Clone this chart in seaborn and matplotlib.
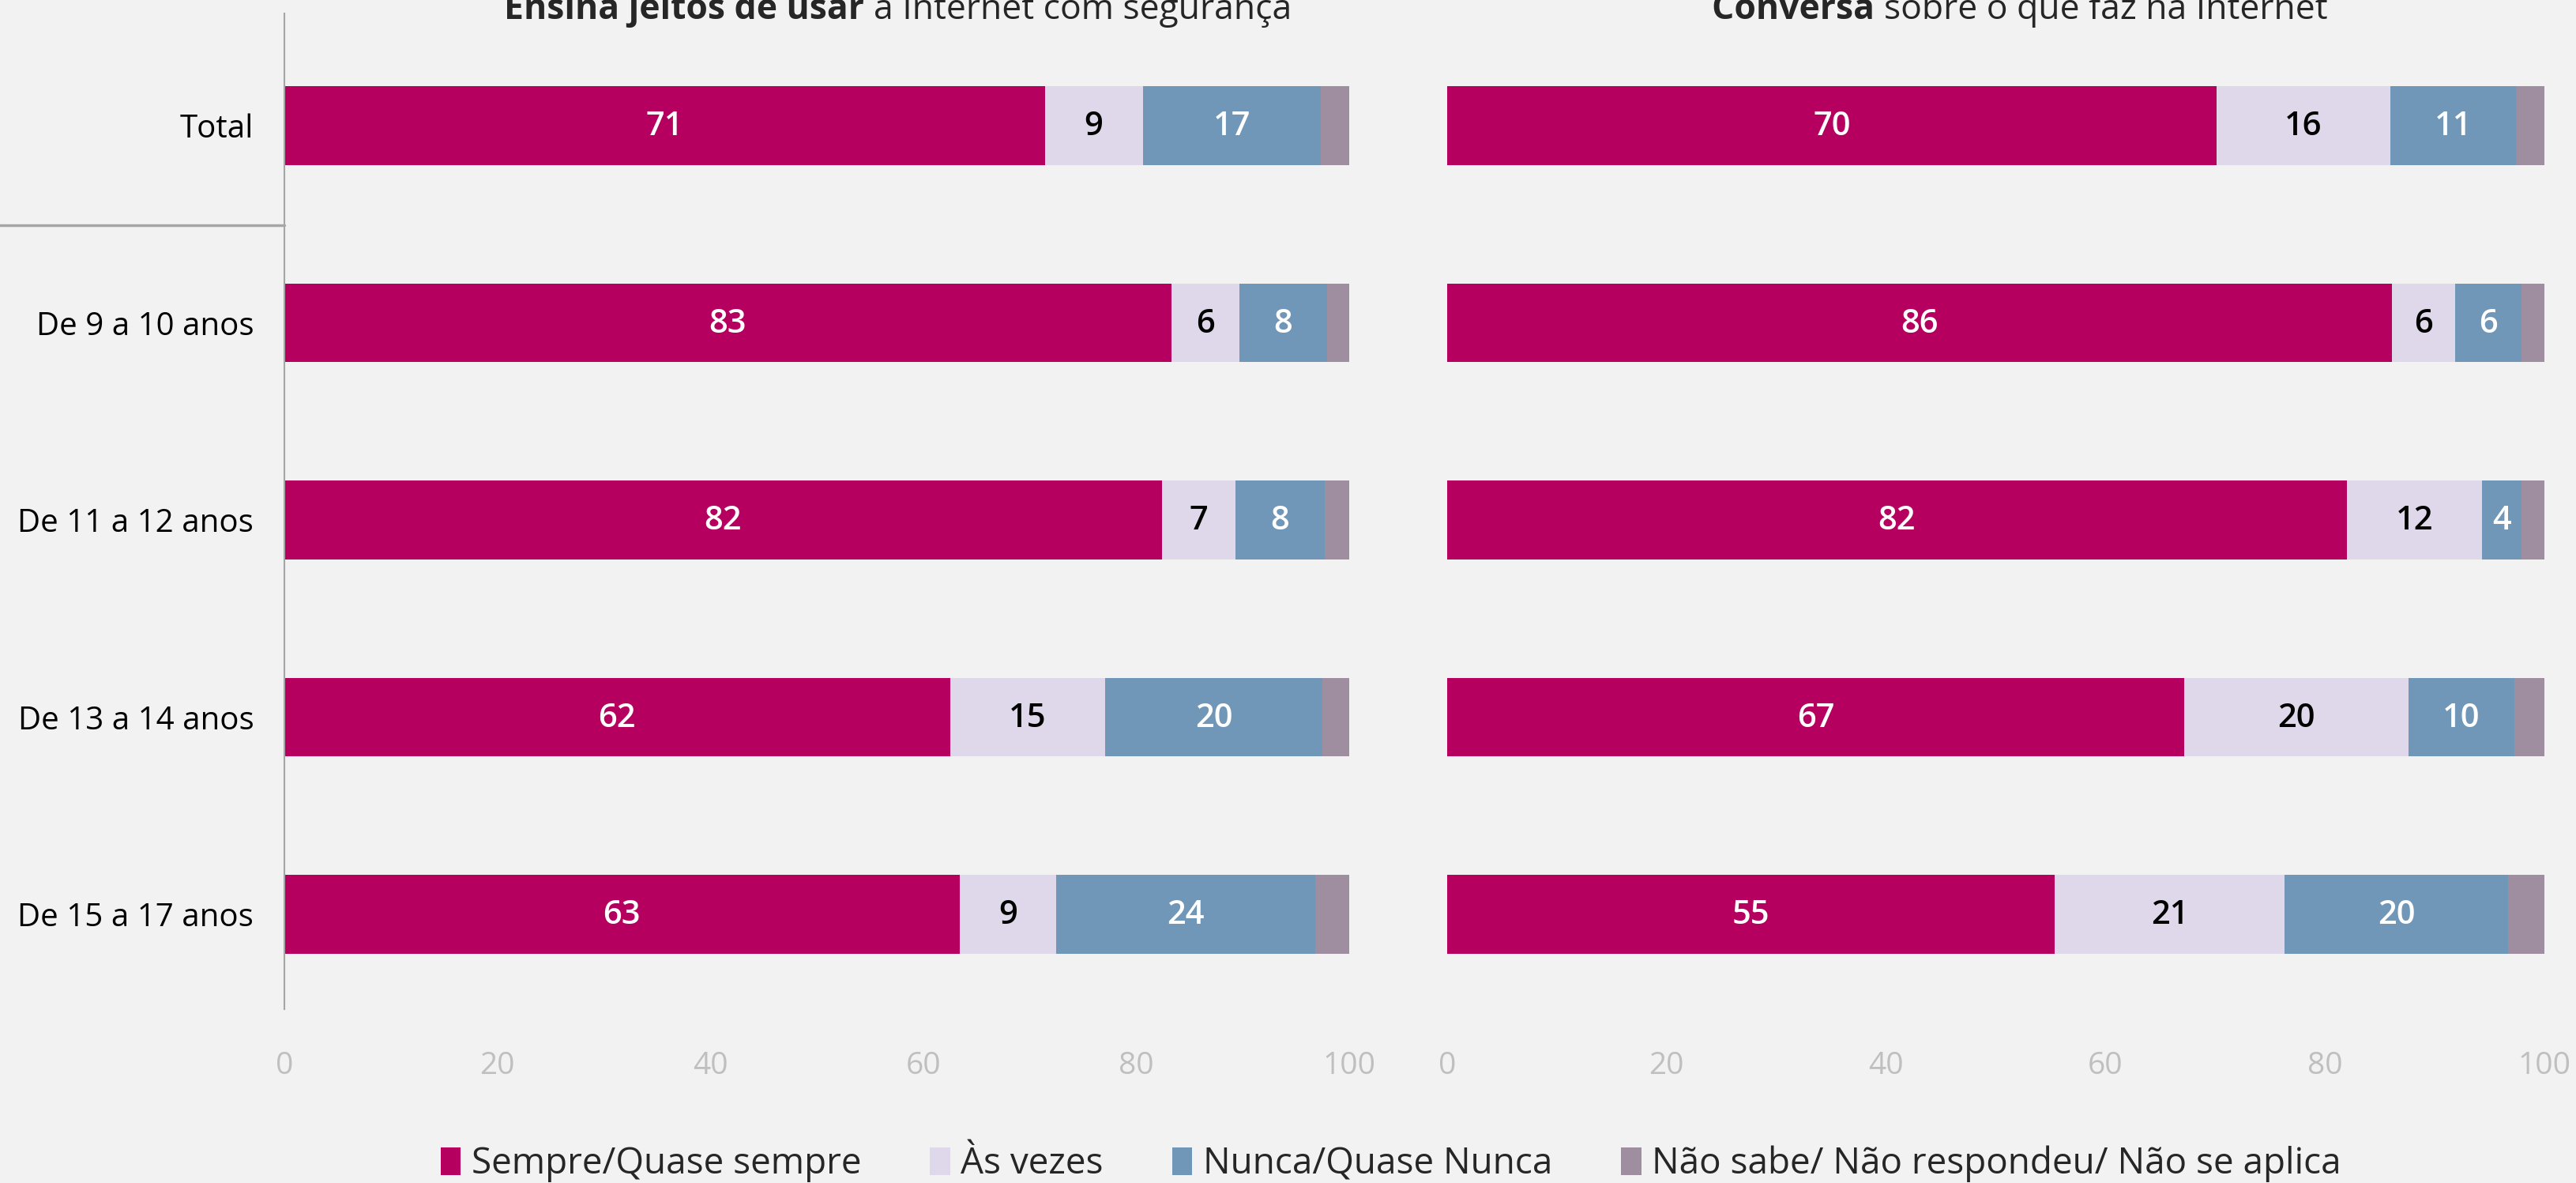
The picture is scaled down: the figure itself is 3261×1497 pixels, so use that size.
import numpy as np
import pandas as pd
import matplotlib
matplotlib.use('Agg')
import matplotlib.pyplot as plt
from matplotlib.patches import Patch
from matplotlib.lines import Line2D
import seaborn as sns

groups = ['Total', 'De 9 a 10 anos', 'De 11 a 12 anos', 'De 13 a 14 anos', 'De 15 a 17 anos']
answers = ['Sempre/Quase sempre', 'Às vezes', 'Nunca/Quase Nunca',
           'Não sabe/ Não respondeu/ Não se aplica']
colors = ['#B5005F', '#DFD7EA', '#7096B8', '#9E8E9F']
text_colors = ['white', 'black', 'white', None]

# Ensina jeitos de usar a Internet com segurança
ensina_sempre = [71.4, 83.3, 82.4, 62.5, 63.4]
ensina_vezes = [9.2, 6.4, 6.9, 14.6, 9.1]
ensina_nunca = [16.7, 8.2, 8.4, 20.4, 24.3]
ensina_ns = [2.7, 2.1, 2.3, 2.5, 3.2]

# Conversa sobre o que faz na Internet
conversa_sempre = [70.1, 86.1, 82.0, 67.2, 55.4]
conversa_vezes = [15.9, 5.8, 12.3, 20.4, 20.9]
conversa_nunca = [11.4, 6.0, 3.6, 9.7, 20.4]
conversa_ns = [2.6, 2.1, 2.1, 2.7, 3.3]

xticks = [0, 20, 40, 60, 80, 100]

bg = '#F2F2F2'
sns.set_theme(style='white')
plt.rcParams['font.family'] = ['Open Sans', 'DejaVu Sans']
plt.rcParams['figure.facecolor'] = bg
plt.rcParams['axes.facecolor'] = bg

fig = plt.figure(figsize=(32.61, 14.97), dpi=100)
ax1 = fig.add_axes([0.1104, 0.147, 0.4134, 0.8416])
ax2 = fig.add_axes([0.5618, 0.147, 0.4259, 0.8416])


def draw_panel(ax, series, show_labels):
    df = pd.DataFrame(dict(zip(answers, series)))
    cum = df[answers].cumsum(axis=1)
    cum['grupo'] = groups
    # draw cumulative bars from the back so each segment shows
    for ans, col in zip(answers[::-1], colors[::-1]):
        sns.barplot(data=cum, x=ans, y='grupo', orient='h', color=col,
                    saturation=1, width=0.4, edgecolor='none', ax=ax)
    for i, g in enumerate(groups):
        start = 0
        for ans, tc in zip(answers, text_colors):
            v = df[ans][i]
            if tc is not None:
                ax.text(start + v / 2, i + 0.005, f'{v:.0f}', ha='center', va='center',
                        color=tc, fontsize=30, fontweight='semibold')
            start += v
    ax.set_xlim(0, 100)
    ax.set_ylim(4.481, -0.569)
    ax.set_xticks(xticks)
    ax.set_xlabel('')
    ax.set_ylabel('')
    ax.tick_params(axis='x', length=0, pad=38, labelsize=28, labelcolor='#BFBFBF')
    ax.tick_params(axis='y', length=0, pad=28, labelsize=29, labelcolor='black')
    for s in ax.spines.values():
        s.set_visible(False)
    if show_labels:
        ax.spines['left'].set_visible(True)
        ax.spines['left'].set_color('#A6A6A6')
        ax.spines['left'].set_linewidth(1.5)
    else:
        ax.set_yticklabels([])


draw_panel(ax1, [ensina_sempre, ensina_vezes, ensina_nunca, ensina_ns], True)
draw_panel(ax2, [conversa_sempre, conversa_vezes, conversa_nunca, conversa_ns], False)

# line separating Total from the age groups
fig.add_artist(Line2D([0, 0.1104], [1 - 285 / 1497] * 2, color='#A6A6A6', lw=2.5))

# titles, bold part followed by regular part on the same baseline
fig.canvas.draw()
renderer = fig.canvas.get_renderer()


def title(x, bold, rest):
    y = 0.984
    t = fig.text(x, y, bold + ' ', fontsize=32, fontweight='bold', ha='left', va='baseline')
    w = t.get_window_extent(renderer).width / fig.bbox.width
    fig.text(x + w, y, rest, fontsize=32, ha='left', va='baseline')


title(0.1957, 'Ensina jeitos de usar', 'a Internet com segurança')
title(0.6646, 'Conversa', 'sobre o que faz na Internet')

handles = [Patch(facecolor=c, edgecolor='none') for c in colors]
fig.legend(handles, answers, loc='center', bbox_to_anchor=(0.54, 0.016), ncol=4,
           frameon=False, fontsize=33, handlelength=0.55, handleheight=0.8,
           handletextpad=0.3, columnspacing=1.9)

fig.savefig('out.png', dpi=100, facecolor=bg)
